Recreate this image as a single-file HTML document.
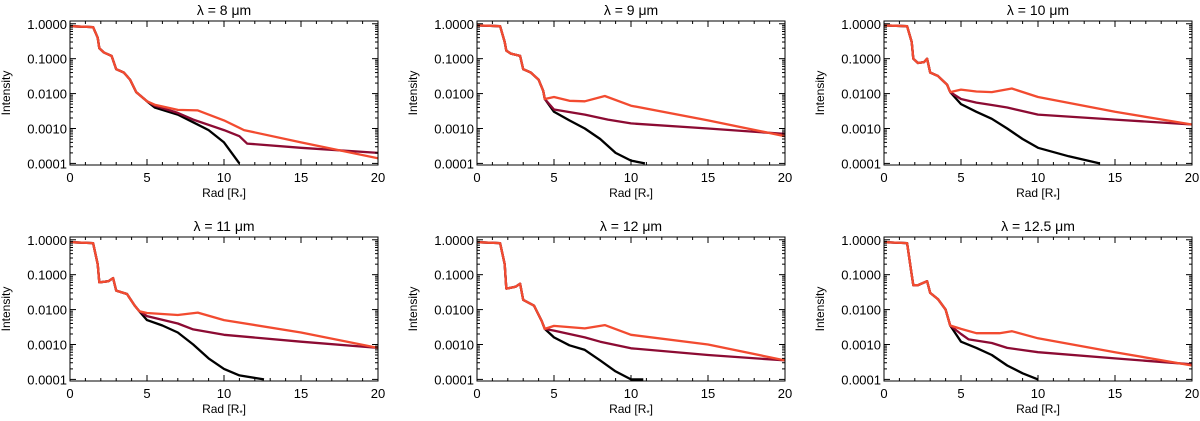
<!DOCTYPE html>
<html><head><meta charset="utf-8">
<style>body{margin:0;background:#fff}svg{display:block;font-family:"Liberation Sans","DejaVu Sans",sans-serif}</style>
</head><body>
<svg id="c" width="1200" height="421"></svg>
<script>
const waves=["8","9","10","11","12","12.5"];
const xTicks=[0,5,10,15,20];
const yTicks=[1,0.1,0.01,0.001,0.0001];
const yTickLabels=["1.0000","0.1000","0.0100","0.0010","0.0001"];
const inner=[
[[0,0.85],[1.5,0.8],[1.8,0.4],[1.9,0.2],[2.2,0.15],[2.7,0.12],[3,0.05],[3.5,0.04],[3.9,0.025],[4.3,0.011],[5,0.006]],
[[0,0.9],[1.5,0.85],[1.8,0.3],[1.9,0.17],[2.2,0.14],[2.8,0.12],[3,0.05],[3.5,0.04],[4,0.025],[4.3,0.012],[4.4,0.007]],
[[0,0.9],[1.5,0.85],[1.8,0.3],[1.9,0.1],[2.2,0.075],[2.6,0.08],[2.8,0.1],[3,0.04],[3.5,0.032],[4.1,0.018],[4.3,0.011]],
[[0,0.85],[1.5,0.8],[1.8,0.2],[1.9,0.06],[2.5,0.065],[2.8,0.08],[3,0.035],[3.7,0.028],[4.2,0.013],[4.5,0.009]],
[[0,0.85],[1.5,0.8],[1.8,0.2],[1.9,0.04],[2.5,0.045],[2.8,0.055],[3,0.019],[3.7,0.013],[4.2,0.0047],[4.4,0.0028]],
[[0,0.85],[1.5,0.8],[1.8,0.1],[1.9,0.05],[2.2,0.05],[2.8,0.065],[3,0.03],[3.5,0.02],[4,0.01],[4.3,0.0035]]];
const blackTail=[
[[5.5,0.004],[7,0.0025],[8,0.0015],[9,0.0009],[10,0.0004],[10.5,0.0002],[11,0.0001]],
[[5,0.003],[6,0.0017],[7,0.001],[8,0.0005],[9,0.0002],[10,0.00012],[10.9,0.0001]],
[[5,0.005],[6,0.003],[7,0.0019],[8,0.001],[9,0.0005],[10,0.00028],[12,0.00016],[14,0.0001]],
[[5,0.005],[6,0.0035],[7,0.0022],[8,0.001],[9,0.0004],[10,0.0002],[11,0.00013],[12.6,0.0001]],
[[5,0.0016],[6,0.00095],[7,0.0007],[8,0.00035],[9,0.00017],[10,0.0001],[10.8,0.0001]],
[[5,0.0012],[6,0.0008],[7,0.0005],[8,0.00025],[9,0.00015],[10,0.0001]]];
const darkTail=[
[[5.5,0.0045],[7,0.0028],[8,0.0018],[10,0.0009],[11,0.0006],[11.5,0.00037],[15,0.00028],[20,0.0002]],
[[5,0.0035],[7,0.0025],[8.5,0.0018],[10,0.0014],[15,0.001],[20,0.0007]],
[[5,0.007],[6,0.0055],[7,0.0047],[8,0.004],[10,0.0025],[15,0.0018],[20,0.0013]],
[[5,0.0065],[7,0.004],[8,0.0027],[10,0.0019],[15,0.0012],[20,0.0008]],
[[5,0.0025],[7,0.0016],[8,0.0012],[10,0.00078],[15,0.0005],[20,0.00035]],
[[5,0.002],[5.5,0.0014],[7,0.0011],[8,0.0008],[10,0.0006],[15,0.0004],[20,0.00027]]];
const orangeTail=[
[[5.5,0.0048],[7,0.0034],[8.3,0.0033],[10,0.0017],[11.3,0.0009],[15,0.0004],[20,0.00014]],
[[5,0.008],[6,0.0062],[7,0.006],[8.3,0.0085],[10,0.0045],[15,0.0017],[20,0.0006]],
[[5,0.013],[6,0.0115],[7,0.011],[8.3,0.014],[10,0.008],[15,0.003],[20,0.0013]],
[[5,0.008],[7,0.007],[8.3,0.0082],[10,0.005],[15,0.0022],[20,0.0008]],
[[5,0.0034],[7,0.0029],[8.3,0.0036],[10,0.0019],[15,0.001],[20,0.00035]],
[[5,0.0028],[6,0.0021],[7.5,0.0021],[8.3,0.0024],[10,0.0015],[15,0.0006],[20,0.00025]]];

const NS="http://www.w3.org/2000/svg",svg=document.getElementById("c");
function mk(t,a,p){const e=document.createElementNS(NS,t);for(const k in a)e.setAttribute(k,a[k]);(p||svg).appendChild(e);return e;}
const colX=[70,477,884],rowY=[21,237],W=308,H=144,YMAX=Math.log10(1.2),YMIN=Math.log10(0.00009);
for(let i=0;i<6;i++){
  const x0=colX[i%3],y0=rowY[Math.floor(i/3)];
  const g=mk("g",{});
  
  
  const X=v=>x0+v/20*W, Y=v=>y0+(YMAX-Math.log10(v))/(YMAX-YMIN)*H;
  const t=mk("text",{x:x0+W/2,y:y0-6,"text-anchor":"middle","font-size":14},g);
  t.textContent="λ = "+waves[i]+" μm";
  
  
  const clip="cl"+i;const cp=mk("clipPath",{id:clip},g);mk("rect",{x:x0,y:y0,width:W,height:H},cp);
  [[blackTail,"#000","black"],[darkTail,"#8c0b33","darkred"],[orangeTail,"#f24b30","orange"]].forEach(([tail,col,nm])=>{
    const pts=inner[i].concat(tail[i]);
    const p=mk("polyline",{points:pts.map(q=>X(q[0]).toFixed(1)+","+Y(q[1]).toFixed(1)).join(" "),fill:"none",stroke:col,"stroke-width":2.3,"stroke-linejoin":"round","clip-path":"url(#"+clip+")"},g);
    
    
  });
  const fr=mk("rect",{x:x0,y:y0,width:W,height:H,fill:"none",stroke:"#000","stroke-width":1},g);
  
  
  for(let v=0;v<=20;v++){const L=v%5?3:6,xx=X(v);
    mk("line",{x1:xx,x2:xx,y1:y0+H,y2:y0+H-L,stroke:"#000"},g);
    mk("line",{x1:xx,x2:xx,y1:y0,y2:y0+L,stroke:"#000"},g);}
  xTicks.forEach(v=>{const tt=mk("text",{x:X(v),y:y0+H+17,"text-anchor":"middle","font-size":13},g);tt.textContent=v;
    });
  for(let d=-4;d<=0;d++)for(let m=1;m<=9;m++){const v=m*Math.pow(10,d);if(v>1.2)continue;const yy=Y(v),L=m==1?6:3;
    mk("line",{x1:x0,x2:x0+L,y1:yy,y2:yy,stroke:"#000"},g);
    mk("line",{x1:x0+W,x2:x0+W-L,y1:yy,y2:yy,stroke:"#000"},g);}
  yTicks.forEach((v,k)=>{const tt=mk("text",{x:x0-3,y:Y(v)+5,"text-anchor":"end","font-size":13},g);tt.textContent=yTickLabels[k];
    });
  const xt=mk("text",{x:x0+W/2,y:y0+H+32,"text-anchor":"middle","font-size":12},g);
  xt.innerHTML='Rad [R<tspan font-size="8" dy="3">*</tspan><tspan dy="-3">]</tspan>';
  
  const yt=mk("text",{x:0,y:0,"text-anchor":"middle","font-size":12,transform:"translate("+(x0-60)+","+(y0+H/2)+") rotate(-90)"},g);yt.textContent="Intensity";
  
}
</script>
</body></html>
